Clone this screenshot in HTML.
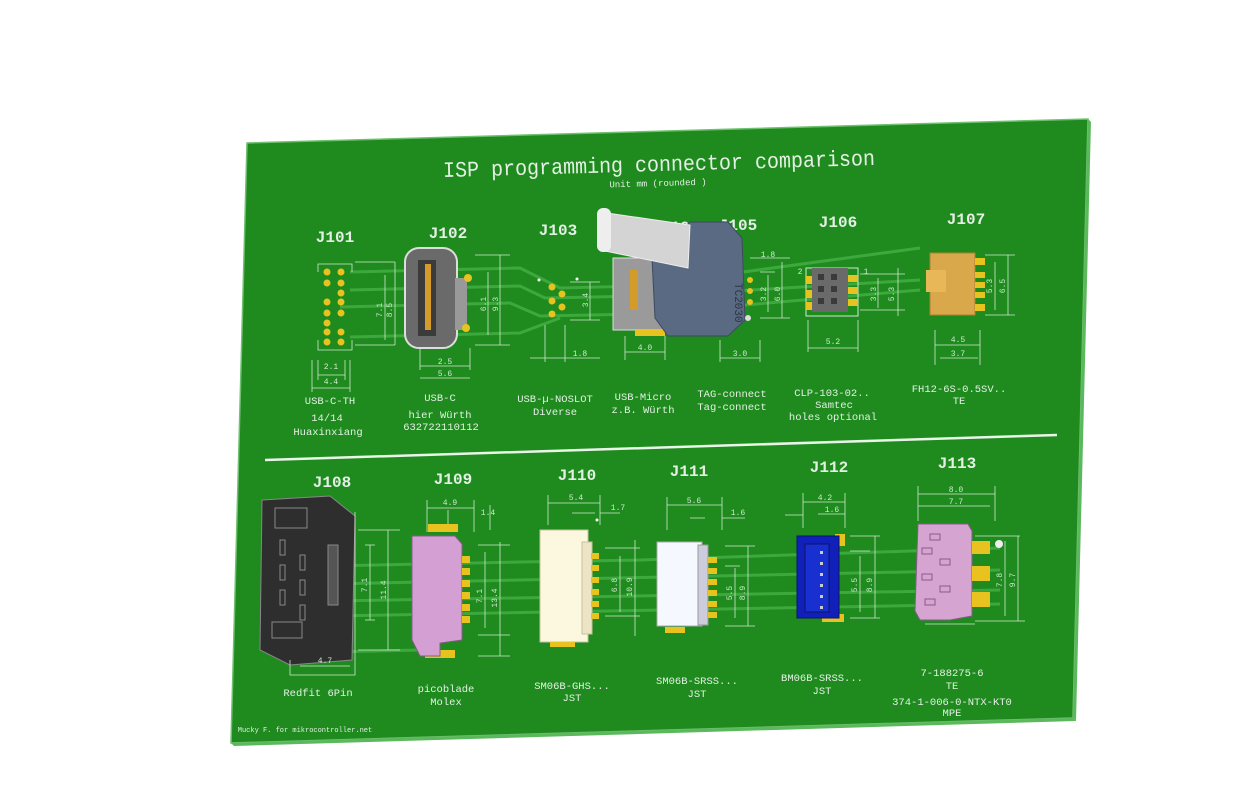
<!DOCTYPE html>
<html><head><meta charset="utf-8"><style>
html,body{margin:0;padding:0;background:#fff;}
svg{display:block}
.t{fill:#e4f0e4;font-family:"Liberation Mono",monospace;text-anchor:middle}
.d{stroke:#cfe8cf;stroke-width:0.8;fill:none}
.tr{stroke:#3da83d;stroke-width:3;fill:none}
.s{fill:#cfe8cf;font-family:"Liberation Mono",monospace;font-size:8px;text-anchor:middle}
</style></head><body>
<svg width="1241" height="806" viewBox="0 0 1241 806" xmlns="http://www.w3.org/2000/svg">
<rect width="1241" height="806" fill="#fff"/>
<polygon points="247,143 1088,119 1073,718 231,743" fill="#1f8b1f" stroke="#6fc06f" stroke-width="1.5"/>
<polygon points="1088,119 1091,122 1076,721 1073,718" fill="#5cb85c"/>
<polygon points="231,743 1073,718 1076,721 234,746" fill="#5cb85c"/>
<g>
<!-- traces -->
<g class="tr">
<path d="M350,272 L520,268 L560,288 L640,286 L920,248"/>
<path d="M350,290 L520,286 L545,298 L640,296"/>
<path d="M340,307 L510,303 L540,316 L640,314 L920,290"/>
<path d="M350,337 L520,333 L560,318"/>
<path d="M700,293 L920,280"/>
<path d="M330,566 L520,562 L640,560 L1000,548"/>
<path d="M330,584 L1000,570"/>
<path d="M330,601 L1000,590"/>
<path d="M330,616 L1000,604"/>
<path d="M330,652 L420,650 L450,620"/>
</g>
<!-- title -->
<text class="t" x="659" y="171" font-size="22" textLength="432" lengthAdjust="spacingAndGlyphs" transform="rotate(-1.6 659 165)">ISP programming connector comparison</text>
<text class="t" x="658" y="186" font-size="9" transform="rotate(-1.6 658 183)">Unit mm (rounded )</text>
<!-- row1 labels -->
<g font-size="16" class="t" font-weight="bold">
<text x="335" y="242">J101</text><text x="448" y="238">J102</text><text x="558" y="235">J103</text>
<text x="680" y="232">J104</text><text x="738" y="230">J105</text><text x="838" y="227">J106</text><text x="966" y="224">J107</text>
</g>
<g font-size="10.5" class="t">
<text x="330" y="404">USB-C-TH</text><text x="327" y="421">14/14</text><text x="328" y="435">Huaxinxiang</text>
<text x="440" y="401">USB-C</text><text x="440" y="418">hier Würth</text><text x="441" y="430">632722110112</text>
<text x="555" y="402">USB-µ-NOSLOT</text><text x="555" y="415">Diverse</text>
<text x="643" y="400">USB-Micro</text><text x="643" y="413">z.B. Würth</text>
<text x="732" y="397">TAG-connect</text><text x="732" y="410">Tag-connect</text>
<text x="832" y="396">CLP-103-02..</text><text x="834" y="408">Samtec</text><text x="833" y="420">holes optional</text>
<text x="959" y="392">FH12-6S-0.5SV..</text><text x="959" y="404">TE</text>
</g>
<line x1="265" y1="460" x2="1057" y2="435" stroke="#e8f5e8" stroke-width="2.5"/>
<!-- row2 labels -->
<g font-size="16" class="t" font-weight="bold">
<text x="332" y="487">J108</text><text x="453" y="484">J109</text><text x="577" y="480">J110</text>
<text x="689" y="476">J111</text><text x="829" y="472">J112</text><text x="957" y="468">J113</text>
</g>
<g font-size="10.5" class="t">
<text x="318" y="696">Redfit 6Pin</text>
<text x="446" y="692">picoblade</text><text x="446" y="705">Molex</text>
<text x="572" y="689">SM06B-GHS...</text><text x="572" y="701">JST</text>
<text x="697" y="684">SM06B-SRSS...</text><text x="697" y="697">JST</text>
<text x="822" y="681">BM06B-SRSS...</text><text x="822" y="694">JST</text>
<text x="952" y="676">7-188275-6</text><text x="952" y="689">TE</text>
<text x="952" y="705">374-1-006-0-NTX-KT0</text><text x="952" y="716">MPE</text>
</g>
<text x="305" y="732" class="t" font-size="7">Mucky F. for mikrocontroller.net</text>

<!-- J101 -->
<g>
<path class="d" d="M318,272 V264 H352 V272 M318,340 V350 H352 V340 M318,360 V380 M345,360 V380 M318,375 H345 M312,360 V392 M350,360 V392 M312,388 H350 M355,262 H395 M355,345 H395 M385,275 V340 M395,262 V345"/>
<g fill="#e8c21f"><circle cx="327" cy="272" r="3.5"/><circle cx="341" cy="272" r="3.5"/><circle cx="327" cy="283" r="3.5"/><circle cx="341" cy="283" r="3.5"/><circle cx="341" cy="293" r="3.5"/><circle cx="327" cy="302" r="3.5"/><circle cx="341" cy="302" r="3.5"/><circle cx="327" cy="313" r="3.5"/><circle cx="341" cy="313" r="3.5"/><circle cx="327" cy="323" r="3.5"/><circle cx="327" cy="332" r="3.5"/><circle cx="341" cy="332" r="3.5"/><circle cx="327" cy="342" r="3.5"/><circle cx="341" cy="342" r="3.5"/></g>
<text class="s" x="331" y="369">2.1</text><text class="s" x="331" y="384">4.4</text>
<text class="s" transform="translate(382,310) rotate(-90)">7.1</text><text class="s" transform="translate(392,310) rotate(-90)">8.5</text>
</g>
<!-- J102 -->
<g>
<rect x="405" y="248" width="52" height="100" rx="14" fill="#6a6a6a" stroke="#ddd" stroke-width="2"/>
<rect x="418" y="260" width="18" height="76" fill="#3b3b3b"/>
<rect x="425" y="264" width="6" height="66" fill="#d49a2a"/>
<rect x="455" y="278" width="12" height="52" fill="#999"/>
<circle cx="468" cy="278" r="4" fill="#e8c21f"/><circle cx="466" cy="328" r="4" fill="#e8c21f"/>
<path class="d" d="M420,348 V370 M470,348 V370 M420,366 H470 M420,378 H470 M475,255 H510 M475,345 H510 M488,272 V335 M500,255 V345"/>
<text class="s" x="445" y="364">2.5</text><text class="s" x="445" y="376">5.6</text>
<text class="s" transform="translate(486,304) rotate(-90)">6.1</text><text class="s" transform="translate(498,304) rotate(-90)">9.3</text>
</g>
<!-- J103 -->
<g>
<circle cx="552" cy="287" r="3.5" fill="#e8c21f"/><circle cx="562" cy="294" r="3.5" fill="#e8c21f"/><circle cx="552" cy="301" r="3.5" fill="#e8c21f"/><circle cx="562" cy="307" r="3.5" fill="#e8c21f"/><circle cx="552" cy="314" r="3.5" fill="#e8c21f"/>
<circle cx="539" cy="280" r="1.5" fill="#fff"/><circle cx="577" cy="279" r="1.5" fill="#fff"/>
<path class="d" d="M570,282 H600 M570,320 H600 M590,282 V320 M545,325 V362 M565,325 V362 M530,358 H600"/>
<text class="s" transform="translate(588,300) rotate(-90)">3.4</text><text class="s" x="580" y="356">1.8</text>
</g>
<!-- J104 -->
<g>
<rect x="613" y="258" width="50" height="72" fill="#9a9a9a" stroke="#ddd"/>
<rect x="630" y="270" width="8" height="40" fill="#d49a2a"/>
<rect x="635" y="330" width="30" height="6" fill="#e8c21f"/>
<path class="d" d="M625,336 V360 M665,336 V360 M625,352 H665"/>
<text class="s" x="645" y="350">4.0</text>
</g>
<!-- J105 tag connect -->
<g>
<path d="M690,222 L728,222 L742,238 L745,320 L728,336 L668,336 L655,318 L652,258 Z" fill="#5a6a82" stroke="#3c4a60"/>
<text x="735" y="283" fill="#2c3448" font-size="11" font-family="Liberation Mono" transform="rotate(90 735 283)">TC2030</text>
<path d="M600,212 L690,225 L688,268 L600,250 Z" fill="#d4d4d4" stroke="#eee"/>
<rect x="597" y="208" width="14" height="44" rx="6" fill="#eee"/>
<circle cx="750" cy="280" r="3" fill="#e8c21f"/><circle cx="750" cy="291" r="3" fill="#e8c21f"/><circle cx="750" cy="302" r="3" fill="#e8c21f"/><circle cx="748" cy="318" r="3" fill="#ddd"/>
<path class="d" d="M750,258 H790 M760,272 H775 M760,318 H790 M768,275 V312 M782,262 V318 M720,340 V362 M760,340 V362 M720,358 H760"/>
<text class="s" x="768" y="257">1.8</text><text class="s" transform="translate(766,294) rotate(-90)">3.2</text><text class="s" transform="translate(780,294) rotate(-90)">6.0</text><text class="s" x="740" y="356">3.0</text>
</g>
<!-- J106 -->
<g>
<rect x="806" y="268" width="52" height="48" fill="none" stroke="#cfe8cf"/>
<rect x="812" y="268" width="36" height="44" fill="#6a6a6a"/>
<g fill="#3a3a3a"><rect x="818" y="274" width="6" height="6"/><rect x="831" y="274" width="6" height="6"/><rect x="818" y="286" width="6" height="6"/><rect x="831" y="286" width="6" height="6"/><rect x="818" y="298" width="6" height="6"/><rect x="831" y="298" width="6" height="6"/></g>
<rect x="848" y="275" width="10" height="7" fill="#e8c21f"/><rect x="848" y="287" width="10" height="7" fill="#e8c21f"/><rect x="848" y="299" width="10" height="7" fill="#e8c21f"/>
<rect x="806" y="276" width="6" height="8" fill="#e8c21f"/><rect x="806" y="290" width="6" height="8" fill="#e8c21f"/><rect x="806" y="302" width="6" height="8" fill="#e8c21f"/>
<path class="d" d="M808,320 V352 M858,320 V352 M808,348 H858 M860,274 H905 M860,310 H905 M878,278 V308 M898,268 V316"/>
<text class="s" x="833" y="344" font-size="11">5.2</text>
<text class="s" transform="translate(876,294) rotate(-90)" font-size="10">3.3</text><text class="s" transform="translate(894,294) rotate(-90)" font-size="10">5.3</text>
<text class="s" x="800" y="274">2</text><text class="s" x="866" y="274">1</text>
</g>
<!-- J107 -->
<g>
<rect x="930" y="253" width="45" height="62" fill="#d8a84a" stroke="#b08030"/>
<rect x="926" y="270" width="20" height="22" fill="#e8b858"/>
<g fill="#e8c21f"><rect x="975" y="258" width="10" height="7"/><rect x="975" y="272" width="10" height="6"/><rect x="975" y="282" width="10" height="6"/><rect x="975" y="292" width="10" height="6"/><rect x="975" y="304" width="10" height="7"/></g>
<path class="d" d="M985,255 H1015 M985,315 H1015 M995,262 V310 M1008,255 V315 M935,330 V365 M980,330 V365 M935,345 H980 M940,358 H978"/>
<text class="s" transform="translate(992,286) rotate(-90)">5.3</text><text class="s" transform="translate(1005,286) rotate(-90)">6.5</text>
<text class="s" x="958" y="342">4.5</text><text class="s" x="958" y="356">3.7</text>
</g>

<!-- J108 -->
<g>
<path d="M262,500 L330,496 L355,516 L352,660 L290,665 L260,650 Z" fill="#2e2e2e" stroke="#888"/>
<rect x="275" y="508" width="32" height="20" fill="none" stroke="#888"/>
<g fill="none" stroke="#888"><rect x="280" y="540" width="5" height="15"/><rect x="280" y="565" width="5" height="15"/><rect x="280" y="590" width="5" height="15"/><rect x="300" y="555" width="5" height="15"/><rect x="300" y="580" width="5" height="15"/><rect x="300" y="605" width="5" height="15"/><rect x="272" y="622" width="30" height="16"/></g>
<rect x="328" y="545" width="10" height="60" fill="#555" stroke="#888"/>
<path class="d" d="M355,512 V675 H290 V660 M358,530 H400 M358,650 H400 M365,545 H375 M365,620 H375 M370,545 V620 M388,530 V650 M300,666 H350"/>
<text class="s" transform="translate(367,585) rotate(-90)">7.1</text><text class="s" transform="translate(386,590) rotate(-90)">11.4</text><text class="s" x="325" y="663">4.7</text>
</g>
<!-- J109 -->
<g>
<rect x="428" y="524" width="30" height="8" fill="#e8c21f"/>
<rect x="425" y="650" width="30" height="8" fill="#e8c21f"/>
<path d="M412,536 L455,536 L462,544 L462,640 L440,643 L440,656 L420,656 L412,640 Z" fill="#d4a0d4" stroke="#8a5a8a"/>
<g fill="#e8c21f"><rect x="462" y="556" width="8" height="7"/><rect x="462" y="568" width="8" height="7"/><rect x="462" y="580" width="8" height="7"/><rect x="462" y="592" width="8" height="7"/><rect x="462" y="604" width="8" height="7"/><rect x="462" y="616" width="8" height="7"/></g>
<path class="d" d="M427,500 V532 M474,500 V532 M427,508 H474 M448,510 V524 M490,505 V530 M478,545 H510 M478,635 H510 M478,656 H510 M485,552 V628 M500,542 V656"/>
<text class="s" x="450" y="505">4.9</text><text class="s" x="488" y="515">1.4</text>
<text class="s" transform="translate(482,596) rotate(-90)">7.1</text><text class="s" transform="translate(497,598) rotate(-90)">13.4</text>
</g>
<!-- J110 -->
<g>
<rect x="540" y="530" width="48" height="112" fill="#fcf8e0" stroke="#c8c0a0"/>
<rect x="582" y="542" width="10" height="92" fill="#ece4c4" stroke="#c8c0a0"/>
<g fill="#e8c21f"><rect x="591" y="553" width="8" height="6"/><rect x="591" y="565" width="8" height="6"/><rect x="591" y="577" width="8" height="6"/><rect x="591" y="589" width="8" height="6"/><rect x="591" y="601" width="8" height="6"/><rect x="591" y="613" width="8" height="6"/></g>
<rect x="550" y="642" width="25" height="5" fill="#e8c21f"/>
<path class="d" d="M548,495 V525 M600,495 V525 M548,503 H600 M572,513 H595 M600,513 H620 M605,548 H640 M605,616 H640 M620,556 V612 M635,540 V636"/>
<text class="s" x="576" y="500">5.4</text><text class="s" x="618" y="510">1.7</text>
<text class="s" transform="translate(617,585) rotate(-90)">6.8</text><text class="s" transform="translate(632,587) rotate(-90)">10.9</text>
<circle cx="597" cy="520" r="1.5" fill="#fff"/>
</g>
<!-- J111 -->
<g>
<rect x="657" y="542" width="45" height="84" fill="#f6f8ff" stroke="#aaa"/>
<rect x="698" y="545" width="10" height="80" fill="#ccd" stroke="#999"/>
<g fill="#e8c21f"><rect x="708" y="557" width="9" height="6"/><rect x="708" y="568" width="9" height="6"/><rect x="708" y="579" width="9" height="6"/><rect x="708" y="590" width="9" height="6"/><rect x="708" y="601" width="9" height="6"/><rect x="708" y="612" width="9" height="6"/></g>
<rect x="665" y="627" width="20" height="6" fill="#e8c21f"/>
<path class="d" d="M667,497 V530 M722,497 V530 M667,505 H722 M690,518 H705 M722,518 H745 M725,546 H755 M725,566 H740 M725,626 H755 M735,568 V618 M748,546 V626"/>
<text class="s" x="694" y="503">5.6</text><text class="s" x="738" y="515">1.6</text>
<text class="s" transform="translate(732,593) rotate(-90)">5.5</text><text class="s" transform="translate(745,593) rotate(-90)">8.9</text>
</g>
<!-- J112 -->
<g>
<rect x="835" y="534" width="10" height="12" fill="#e8c21f"/><rect x="822" y="614" width="22" height="8" fill="#e8c21f"/>
<rect x="797" y="536" width="42" height="82" fill="#1020b8" stroke="#0a1470"/>
<rect x="805" y="544" width="24" height="68" fill="#1830d0" stroke="#0a1470"/>
<g fill="#ccc"><rect x="820" y="551" width="3" height="3"/><rect x="820" y="562" width="3" height="3"/><rect x="820" y="573" width="3" height="3"/><rect x="820" y="584" width="3" height="3"/><rect x="820" y="595" width="3" height="3"/><rect x="820" y="606" width="3" height="3"/></g>
<path class="d" d="M803,493 V528 M845,493 V528 M803,502 H845 M818,514 H845 M785,515 H803 M850,536 H880 M850,551 H870 M850,618 H880 M860,556 V612 M875,536 V618"/>
<text class="s" x="825" y="500">4.2</text><text class="s" x="832" y="512">1.6</text>
<text class="s" transform="translate(857,585) rotate(-90)">5.5</text><text class="s" transform="translate(872,585) rotate(-90)">8.9</text>
</g>
<!-- J113 -->
<g>
<path d="M918,524 L968,524 L972,531 L972,616 L950,620 L920,620 L915,611 Z" fill="#d6a4d0" stroke="#8a5a8a"/>
<g fill="none" stroke="#8a5a8a"><rect x="930" y="534" width="10" height="6"/><rect x="922" y="548" width="10" height="6"/><rect x="940" y="559" width="10" height="6"/><rect x="922" y="574" width="10" height="6"/><rect x="940" y="586" width="10" height="6"/><rect x="925" y="599" width="10" height="6"/></g>
<rect x="972" y="541" width="18" height="13" fill="#e8c21f"/><rect x="972" y="566" width="18" height="15" fill="#e8c21f"/><rect x="972" y="592" width="18" height="15" fill="#e8c21f"/>
<circle cx="999" cy="544" r="4" fill="#eee"/>
<path class="d" d="M918,486 V521 M995,486 V521 M918,494 H995 M918,506 H990 M975,536 H1020 M975,621 H1025 M1005,541 V616 M1018,536 V621 M925,624 H975"/>
<text class="s" x="956" y="492">8.0</text><text class="s" x="956" y="504">7.7</text>
<text class="s" transform="translate(1002,580) rotate(-90)">7.8</text><text class="s" transform="translate(1015,580) rotate(-90)">9.7</text>
</g>
</g>
</svg>
</body></html>
